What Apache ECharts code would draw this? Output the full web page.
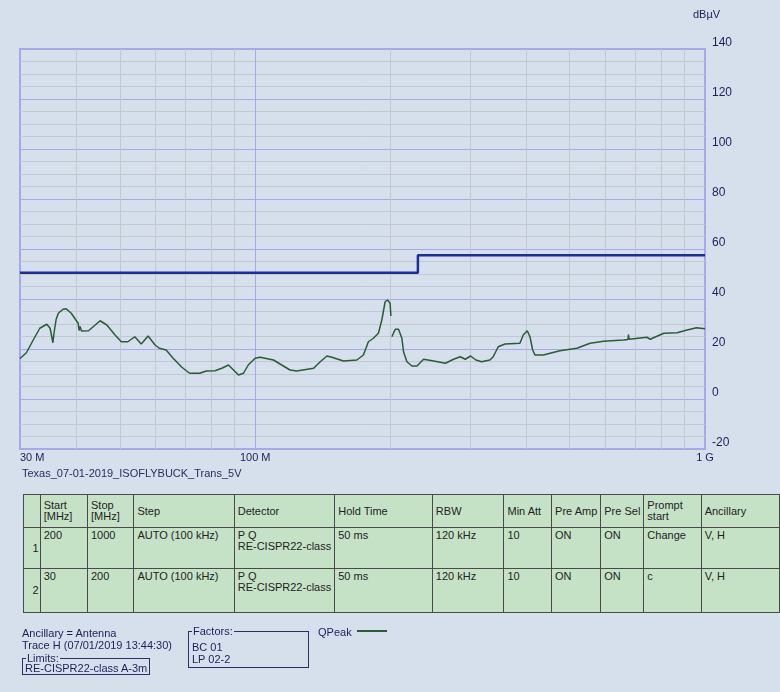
<!DOCTYPE html>
<html>
<head>
<meta charset="utf-8">
<script src="https://cdn.jsdelivr.net/npm/echarts@6/dist/echarts.min.js"></script>
<style>
    html, body { margin: 0; padding: 0; width: 780px; height: 692px; overflow: hidden; background: #d5e0ec; }
    #chart { position: absolute; left: 0; top: 0; width: 780px; height: 692px; }
    .txt { position: absolute; font-family: "Liberation Sans", Arial, sans-serif; font-size: 11px; color: #1c1f5a; white-space: nowrap; line-height: 12px; }
    table.scan { position: absolute; left: 23px; top: 494px; border-collapse: collapse; table-layout: fixed;
        font-family: "Liberation Sans", Arial, sans-serif; font-size: 11px; color: #222; background: #c6e2c6; }
    table.scan td { border: 1px solid #4a4a4a; padding: 2px 3px; line-height: 11px; vertical-align: top; overflow: hidden; white-space: nowrap; }
    table.scan tr.head td { vertical-align: middle; height: 28px; }
    table.scan tr.r1 td { height: 36px; }
    table.scan tr.r2 td { height: 39px; }
    table.scan td.num { text-align: right; vertical-align: middle; padding-right: 1px; }
    .box { position: absolute; border: 1px solid #2b2e6b; }
    .box .lbl { position: absolute; left: 3px; top: -7px; background: #d5e0ec; padding: 0 1px; }
</style>
</head>
<body>
<div id="chart"></div>
<div id="extra"></div>
<script>
    // QPeak trace (MHz, dBµV), null = gap at band change
    const traceFreq = [30, 30.3, 31.0, 32.1, 33.2, 34.4, 35.0, 35.5, 35.7, 36.1, 36.5, 37.4, 38.0, 39.0, 40.4, 40.6, 40.8, 41.1, 41.5,
        42.6, 44.1, 45.2, 46.8, 48.8, 50.4, 52.1, 54.0, 55.8, 57.8, 59.9, 61.2, 63.4, 65.7, 68.7, 71.5, 75.2, 77.9,
        81.4, 84.3, 87.2, 89.5, 91.8, 94.2, 96.5, 100, 102.6, 109.8, 119.5, 123.7, 134.9, 139.5, 144.4, 148.1, 157.1,
        168.3, 174.0, 178.5, 183.1, 187.9, 191.2, 194.5, 196.8, 199.5, 200.3, 200.6, 201.3, 204.8, 208.3, 211.9, 213.7,
        217.4, 223.1, 228.9, 236.8, 249.3, 264.7, 276.1, 285.7, 293.1, 301.3, 309.5, 318.6, 332.5, 338.2, 347.0,
        359.2, 387.8, 394.4, 402.6, 408.2, 413.9, 418.8, 436.9, 476, 518.9, 555.4, 594.6, 658.9, 674, 675.9, 678,
        681.8, 742.9, 755.6, 809.6, 867.2, 912.7, 956.9, 1000];
    const traceLevel = [16.2, 16.7, 18.5, 23.6, 28.3, 29.9, 28.3, 22.5, 26.3, 31.9, 34.3, 35.9, 36.1, 34.3, 30.3, 27.4, 29.0, 27.2, 27.6,
        27.3, 29.6, 31.3, 29.6, 25.6, 22.9, 22.9, 24.9, 22.0, 25.2, 21.6, 20.3, 19.6, 16.3, 12.7, 10.3, 10.3, 11.2,
        11.3, 12.3, 13.6, 11.6, 9.6, 10.3, 13.6, 16.3, 16.7, 15.6, 11.6, 11.2, 12.3, 14.9, 17.2, 16.7, 15.2,
        15.6, 17.6, 22.9, 24.3, 26.3, 31.6, 38.9, 39.6, 38.3, 33.2, null, 24.9, 27.9, 27.9, 24.3, 18.9,
        14.9, 13.2, 13.2, 15.9, 15.2, 14.3, 15.9, 16.9, 15.9, 17.2, 15.6, 14.9, 15.6, 16.9, 20.9,
        22.0, 22.3, 25.6, 27.3, 24.9, 19.6, 17.6, 17.6, 19.3, 20.3, 22.3, 23.1, 23.6, 23.8, 25.8, 23.9,
        24.3, 24.7, 23.9, 26.3, 26.5, 27.6, 28.5, 28.1];

    // limit RE-CISPR22-class A-3m
    const limitFreq = [30, 230, 230, 1000];
    const limitLevel = [50.5, 50.5, 57.5, 57.5];

    const xLabelValues = [30, 100, 1000];
    const xMinorValues = [40, 50, 60, 70, 80, 90, 200, 300, 400, 500, 600, 700, 800, 900];
    const xMajorValues = [100];

    const tableHeader = ['', 'Start<br>[MHz]', 'Stop<br>[MHz]', 'Step', 'Detector', 'Hold Time', 'RBW', 'Min Att', 'Pre Amp', 'Pre Sel', 'Prompt<br>start', 'Ancillary'];
    const tableRows = [
        ['1', '200', '1000', 'AUTO (100 kHz)', 'P Q<br>RE-CISPR22-class', '50 ms', '120 kHz', '10', 'ON', 'ON', 'Change', 'V, H'],
        ['2', '30', '200', 'AUTO (100 kHz)', 'P Q<br>RE-CISPR22-class', '50 ms', '120 kHz', '10', 'ON', 'ON', 'c', 'V, H']
    ];
    const colWidths = [17, 48, 47, 101, 100, 100, 73, 48, 49, 43, 58, 80];

    const majorColor = '#a7a8ec';
    const minorColor = '#c3c7d0';

    const chart = echarts.init(document.getElementById('chart'));
    const option = {
        backgroundColor: '#d5e0ec',
        animation: false,
        grid: {
            left: 20, top: 49, width: 685, height: 400,
            show: true, borderColor: majorColor, borderWidth: 2, backgroundColor: 'transparent'
        },
        xAxis: [
            {
                type: 'log', logBase: 10, min: 30, max: 1000,
                axisLine: { show: false },
                axisTick: { show: false, customValues: xMinorValues },
                axisLabel: {
                    customValues: xLabelValues, margin: 3, color: '#1c1f5a',
                    fontFamily: 'Liberation Sans', fontSize: 11,
                    alignMinLabel: 'left', alignMaxLabel: 'center',
                    formatter: v => (v >= 1000 ? (v / 1000) + ' G' : v + ' M')
                },
                splitLine: { show: true, lineStyle: { color: minorColor, width: 1 } }
            },
            {
                type: 'log', logBase: 10, min: 30, max: 1000, position: 'bottom',
                axisLine: { show: false },
                axisTick: { show: false, customValues: xMajorValues },
                axisLabel: { show: false },
                splitLine: { show: true, lineStyle: { color: majorColor, width: 1 } }
            }
        ],
        yAxis: {
            type: 'value', position: 'right', min: -20, max: 140, interval: 20,
            axisLine: { show: false },
            axisTick: { show: false },
            axisLabel: {
                margin: 7, color: '#1c1f5a', fontFamily: 'Liberation Sans', fontSize: 12,
                verticalAlign: 'bottom'
            },
            splitLine: { show: true, lineStyle: { color: majorColor, width: 1 } },
            minorTick: { show: false, splitNumber: 4 },
            minorSplitLine: { show: true, lineStyle: { color: minorColor, width: 1 } }
        },
        graphic: [
            {
                type: 'text', left: 693, top: 9,
                style: { text: 'dBµV', fill: '#1c1f5a', font: '11px "Liberation Sans"' }
            },
            {
                type: 'text', left: 22, top: 468,
                style: { text: 'Texas_07-01-2019_ISOFLYBUCK_Trans_5V', fill: '#2a2d60', font: '11px "Liberation Sans"' }
            }
        ],
        series: [
            {
                name: 'Limit', type: 'line', xAxisIndex: 0, symbol: 'none', z: 3,
                lineStyle: { color: '#1d2b9c', width: 2.5 },
                data: limitFreq.map((f, i) => [f, limitLevel[i]])
            },
            {
                name: 'QPeak', type: 'line', xAxisIndex: 0, symbol: 'none', z: 4, connectNulls: false,
                lineStyle: { color: '#2b5b36', width: 1.5 },
                data: traceFreq.map((f, i) => [f, traceLevel[i] === null ? '-' : traceLevel[i]])
            }
        ]
    };
    chart.setOption(option);

    // table + notes underneath
    let html = '<table class="scan"><colgroup>' + colWidths.map(w => `<col style="width:${w}px">`).join('') + '</colgroup>';
    html += '<tr class="head">' + tableHeader.map(h => `<td>${h}</td>`).join('') + '</tr>';
    tableRows.forEach((r, k) => {
        html += `<tr class="r${k + 1}">` + r.map((c, i) => `<td${i === 0 ? ' class="num"' : ''}>${c}</td>`).join('') + '</tr>';
    });
    html += '</table>';
    html += '<div class="txt" style="left:22px;top:627px">Ancillary = Antenna</div>';
    html += '<div class="txt" style="left:22px;top:639px">Trace H (07/01/2019 13:44:30)</div>';
    html += '<div class="box" style="left:22px;top:658px;width:126px;height:15px"><span class="txt lbl">Limits:</span>'
        + '<span class="txt" style="left:2px;top:3px">RE-CISPR22-class A-3m</span></div>';
    html += '<div class="box" style="left:188px;top:631px;width:119px;height:35px"><span class="txt lbl">Factors:</span>'
        + '<span class="txt" style="left:3px;top:9px">BC 01</span><span class="txt" style="left:3px;top:21px">LP 02-2</span></div>';
    html += '<div class="txt" style="left:318px;top:626px">QPeak</div>';
    html += '<div style="position:absolute;left:357px;top:630px;width:30px;height:2px;background:#2b5b36"></div>';
    document.getElementById('extra').innerHTML = html;
</script>
</body>
</html>
